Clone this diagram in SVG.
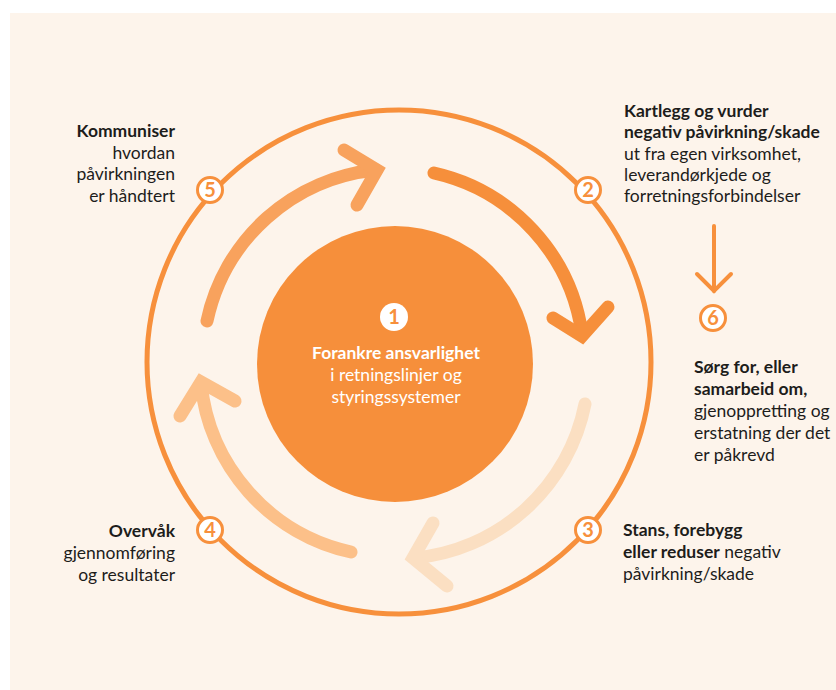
<svg xmlns="http://www.w3.org/2000/svg" width="836" height="690" viewBox="0 0 836 690">
<style>
  .t{font-family:Lato,"Open Sans","Liberation Sans",sans-serif;font-size:17.5px;fill:#1d1d1b}
  .b{font-weight:bold}
  .num{font-family:Lato,"Open Sans","Liberation Sans",sans-serif;font-size:20px;font-weight:bold;fill:#f7903c;text-anchor:middle}
  .badge{fill:#ffffff;stroke:#f7903c;stroke-width:3}
  .arc{fill:none;stroke-width:13;stroke-linecap:round}
  .head{fill:none;stroke-width:13;stroke-linecap:round;stroke-linejoin:miter;stroke-miterlimit:10}
  .ctr{font-family:Lato,"Open Sans","Liberation Sans",sans-serif;font-size:17.5px;fill:#ffffff;text-anchor:middle}
</style>
<rect x="10" y="13" width="826" height="677" fill="#fdf4eb"/>
<g id="ring">
  <circle cx="399" cy="362" r="252" fill="none" stroke="#f7903c" stroke-width="5"/>
</g>
<g id="connectors">
  <g id="arrow-a" stroke="#f68f3b">
    <path class="arc" d="M 434 173 A 192 192 0 0 1 582 334"/>
    <polyline class="head" points="553,318 582,336 608,307"/>
  </g>
  <g id="arrow-b" stroke="#fbdfc2">
    <path class="arc" d="M 585 404 A 192 192 0 0 1 414 558"/>
    <polyline class="head" points="433,523 413,558 447,586"/>
  </g>
  <g id="arrow-c" stroke="#fcc089">
    <path class="arc" d="M 351 552 A 192 192 0 0 1 201 383"/>
    <polyline class="head" points="180,416 201,382 235,401"/>
  </g>
  <g id="arrow-d" stroke="#f8a25d">
    <path class="arc" d="M 207 321 A 192 192 0 0 1 376 170"/>
    <polyline class="head" points="344,150 377,170 357,205"/>
  </g>
  <g id="arrow-6" stroke="#f7903c" fill="none" stroke-width="4" stroke-linecap="round">
    <line x1="714" y1="226" x2="714" y2="291"/>
    <polyline points="697,274 714,291 731,274" stroke-linejoin="miter"/>
  </g>
</g>
<g id="node-1">
  <circle cx="395" cy="364" r="138" fill="#f68f3b"/>
  <circle cx="394" cy="317" r="14" fill="#ffffff"/>
  <text class="num" x="394" y="324">1</text>
  <text class="ctr b" x="396" y="359">Forankre ansvarlighet</text>
  <text class="ctr" x="396" y="381">i retningslinjer og</text>
  <text class="ctr" x="396" y="403">styringssystemer</text>
</g>
<g id="node-2">
  <circle class="badge" cx="588" cy="190" r="12.5"/>
  <text class="num" x="588" y="197">2</text>
  <text class="t b" x="624" y="117">Kartlegg og vurder</text>
  <text class="t b" x="624" y="138">negativ påvirkning/skade</text>
  <text class="t" x="624" y="159.5">ut fra egen virksomhet,</text>
  <text class="t" x="624" y="181">leverandørkjede og</text>
  <text class="t" x="624" y="202">forretningsforbindelser</text>
</g>
<g id="node-3">
  <circle class="badge" cx="588" cy="530" r="12.5"/>
  <text class="num" x="588" y="537">3</text>
  <text class="t b" x="623" y="536">Stans, forebygg</text>
  <text class="t" x="623" y="558"><tspan class="b">eller reduser</tspan> negativ</text>
  <text class="t" x="623" y="580">påvirkning/skade</text>
</g>
<g id="node-4">
  <circle class="badge" cx="210" cy="530" r="12.5"/>
  <text class="num" x="210" y="537">4</text>
  <text class="t b" x="175" y="537" text-anchor="end">Overvåk</text>
  <text class="t" x="175" y="559" text-anchor="end">gjennomføring</text>
  <text class="t" x="175" y="581" text-anchor="end">og resultater</text>
</g>
<g id="node-5">
  <circle class="badge" cx="210" cy="190" r="12.5"/>
  <text class="num" x="210" y="197">5</text>
  <text class="t b" x="175" y="137" text-anchor="end">Kommuniser</text>
  <text class="t" x="175" y="158.5" text-anchor="end">hvordan</text>
  <text class="t" x="175" y="180" text-anchor="end">påvirkningen</text>
  <text class="t" x="175" y="201.5" text-anchor="end">er håndtert</text>
</g>
<g id="node-6">
  <circle class="badge" cx="713" cy="318" r="12.5"/>
  <text class="num" x="713" y="325">6</text>
  <text class="t b" x="694" y="373">Sørg for, eller</text>
  <text class="t b" x="694" y="395">samarbeid om,</text>
  <text class="t" x="694" y="417">gjenoppretting og</text>
  <text class="t" x="694" y="439">erstatning der det</text>
  <text class="t" x="694" y="461">er påkrevd</text>
</g>
</svg>
